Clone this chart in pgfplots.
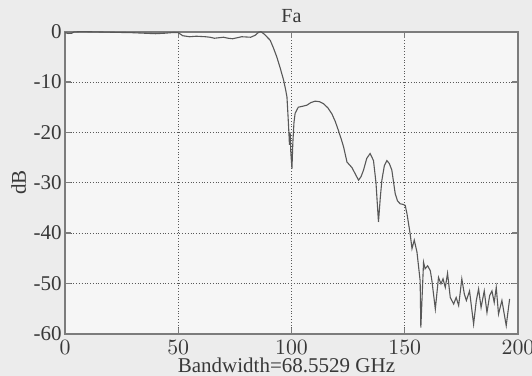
\documentclass[border=0pt]{standalone}
\usepackage{fontspec}
\setmainfont{Liberation Serif}
\usepackage{pgfplots}
\pgfplotsset{compat=1.18}
\definecolor{bg}{HTML}{ECECEC}
\definecolor{plotbg}{HTML}{F6F6F6}
\definecolor{curve}{HTML}{585858}
\definecolor{axc}{HTML}{7C7C7C}
\definecolor{txt}{HTML}{383838}
\begin{document}
\fontsize{10.5bp}{12bp}\selectfont
\begin{tikzpicture}
\fill[bg] (-32.5bp,-21.15bp) rectangle (233.5bp,166.85bp);
\begin{axis}[
  at={(0,0)}, anchor=south west,
  scale only axis,
  width=226.5bp, height=151bp,
  xmin=0, xmax=200, ymin=-60, ymax=0,
  xtick={0,50,100,150,200},
  ytick={-60,-50,-40,-30,-20,-10,0},
  yticklabels={-60,-50,-40,-30,-20,-10,0},
  grid=major,
  grid style={densely dotted, black!65, line width=0.5bp},
  axis line style={axc, line width=0.9bp},
  tick style={axc, line width=0.6bp},
  tick align=inside,
  major tick length=3bp,
  axis background/.style={fill=plotbg},
  ticklabel style={font=\fontsize{10.5bp}{12bp}\selectfont, text=txt},
  x tick label style={anchor=base, yshift=-10.2bp, inner sep=0pt},
  y tick label style={anchor=east, inner sep=0pt, xshift=-1.5bp},
  every axis title shift=0pt,
  title={Fa},
  title style={at={(axis description cs:0.5,1)}, anchor=base, yshift=4.8bp, font=\fontsize{10bp}{12bp}\selectfont, text=txt},
  xlabel={Bandwidth=68.5529 GHz},
  xlabel style={at={(axis description cs:0.5,0)}, anchor=base, yshift=-19.3bp, xshift=-2.5bp, font=\fontsize{10.5bp}{12bp}\selectfont, text=txt},
  ylabel={dB},
  ylabel style={at={(axis description cs:-0.102,0.5)}, anchor=center, font=\fontsize{10.5bp}{12bp}\selectfont, text=txt},
]
\addplot[curve, line width=0.55bp] coordinates {
(0,-0.2) (1.5,-0.35) (3,-0.3) (4,-0.05) (6,0) (10,0) (15,-0.05) (20,-0.1) (25,-0.15) (30,-0.2)
(35,-0.3) (40,-0.4) (44,-0.3) (48,-0.15) (50,-0.2)
(52,-0.8) (55,-1.0) (58,-0.9) (62,-1.0) (64,-1.1) (66,-1.3) (68,-1.2) (70,-1.1) (72,-1.3) (74,-1.4)
(76,-1.2) (78,-1.0) (80,-1.05) (82,-1.1) (84,-0.7) (85.5,-0.1) (86.5,0) (88,-0.5)
(90.6,-1.7) (92,-3.2) (93.5,-5) (95,-7.2) (96.5,-9.6) (97.4,-11.5) (98,-13) (98.5,-17) (98.8,-19.6)
(99.1,-22.5) (99.4,-20) (99.7,-24) (100.2,-27.2) (100.6,-22) (101.1,-18) (101.6,-16.2) (103,-15)
(105,-14.8) (106.8,-14.6) (108.5,-14.1) (110.4,-13.8) (112.3,-13.9) (114.1,-14.3) (116,-15.1) (117.8,-16.3)
(119.3,-17.8) (120.7,-19.6) (122,-21.4) (123,-22.9) (124.5,-25.9) (126.7,-27) (128.2,-28.3) (129.6,-29.5)
(130.7,-28.8) (131.8,-27.5) (133.2,-25.2) (134.7,-24.2) (136.2,-25.6) (137.3,-30) (138.4,-37.8)
(139.2,-33) (139.9,-29.5) (141,-26.6) (142.1,-25.6) (143.2,-26.2) (144.3,-27.5) (145.8,-32.2)
(146.8,-33.6) (148,-34.2) (149.2,-34.3) (150.2,-34.5) (151,-36.2) (152.4,-40.2) (153.2,-43.1)
(154.2,-41.4) (155.4,-43.8) (156.8,-49.5) (157.1,-58.8) (158.3,-45.8) (159,-47.1) (160.1,-46.5)
(161.3,-47.5) (162,-49.5) (163.5,-55.1) (164.9,-48.8) (166,-50.1) (166.9,-49.1) (167.9,-50.8)
(168.9,-48) (170.1,-52.8) (171.6,-54.1) (172.7,-52.8) (173.8,-54.4) (175.2,-49.1) (176.3,-52.1)
(177.2,-53.4) (178.6,-51.5) (180.4,-58.1) (181.6,-53.4) (182.6,-51.1) (183.7,-54.8) (185.1,-51.5)
(186.3,-55.8) (187.5,-52.4) (188.5,-51.5) (189.5,-53.8) (190.4,-50.8) (191.4,-56.1) (192.9,-53.4)
(194.8,-58.4) (196.3,-53.1)
};
\end{axis}
\pgfresetboundingbox
\path[use as bounding box] (-32.5bp,-21.15bp) rectangle (233.5bp,166.85bp);
\end{tikzpicture}
\end{document}
